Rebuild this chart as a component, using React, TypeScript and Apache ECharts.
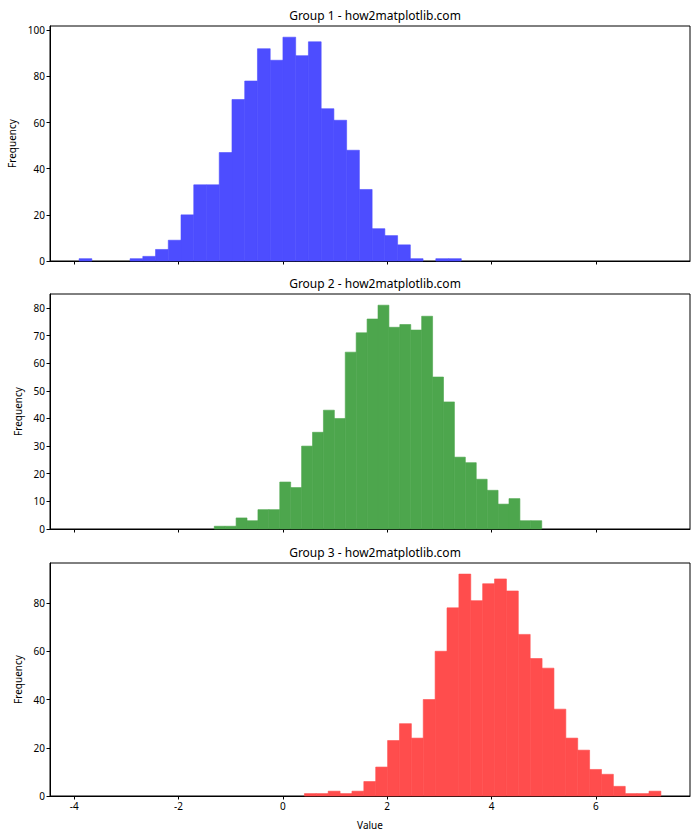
import React, { useEffect, useRef } from "react";
import * as echarts from "echarts";

// Histogram counts (30 bins each)
const group1Counts = [1, 0, 0, 0, 1, 2, 5, 9, 20, 33, 33, 47, 70, 78, 92, 87, 97, 89, 95, 66, 61, 48, 31, 14, 11, 7, 1, 0, 1, 1];
const group2Counts = [1, 1, 4, 3, 7, 7, 17, 15, 30, 35, 43, 40, 64, 71, 76, 81, 73, 74, 72, 77, 55, 46, 26, 24, 18, 14, 9, 11, 3, 3];
const group3Counts = [1, 1, 2, 1, 2, 6, 12, 23, 30, 24, 40, 60, 78, 92, 81, 88, 90, 85, 67, 57, 53, 36, 24, 19, 11, 9, 4, 1, 1, 2];

// Data range of each group (histogram bin range)
const group1Range = [-3.906, 3.42];
const group2Range = [-1.315, 4.962];
const group3Range = [0.413, 7.246];

const titles = ["Group 1 - how2matplotlib.com", "Group 2 - how2matplotlib.com", "Group 3 - how2matplotlib.com"];
// blue / green / red at alpha 0.7 over white
const colors = ["rgb(77,77,255)", "rgb(77,166,77)", "rgb(255,77,77)"];
const xTicks = [-4, -2, 0, 2, 4, 6];
const xMin = -4.464;
const xMax = 7.804;
const yMaxes = [101.85, 85.05, 96.6];
const yIntervals = [20, 10, 20];

function toBins(counts: number[], range: number[]) {
  const n = counts.length;
  const w = (range[1] - range[0]) / n;
  return counts.map((c, i) => [range[0] + i * w, range[0] + (i + 1) * w, c]);
}

const FONT = "Noto Sans, DejaVu Sans, sans-serif";

export default function App() {
  const ref = useRef<HTMLDivElement>(null);
  useEffect(() => {
    if (!ref.current) return;
    const chart = echarts.init(ref.current, null, { renderer: "svg" });
    const grids = [
      { left: 50, top: 26, width: 640, height: 235 },
      { left: 50, top: 294, width: 640, height: 235 },
      { left: 50, top: 563, width: 640, height: 233 },
    ];
    const allData = [
      toBins(group1Counts, group1Range),
      toBins(group2Counts, group2Range),
      toBins(group3Counts, group3Range),
    ];
    const option: any = {
      animation: false,
      backgroundColor: "#ffffff",
      textStyle: { fontFamily: FONT },
      title: grids.map((g, i) => ({
        text: titles[i],
        left: 370,
        top: g.top - 22,
        textAlign: "center",
        textStyle: { fontSize: 12, fontWeight: "normal", color: "#000", fontFamily: FONT },
      })),
      grid: grids.map((g) => ({
        ...g,
        containLabel: false,
        outerBoundsMode: "none",
        show: true,
        borderColor: "#000",
        borderWidth: 1,
        backgroundColor: "transparent",
      })),
      xAxis: grids.map((g, i) => ({
        type: "value",
        gridIndex: i,
        min: xMin,
        max: xMax,
        axisLine: { show: true, onZero: false, lineStyle: { color: "#000", width: 1 } },
        axisTick: { show: true, customValues: xTicks, length: 3.5, lineStyle: { color: "#000" } },
        axisLabel: { show: i === 2, customValues: xTicks, fontSize: 10, color: "#000", margin: 5, fontFamily: FONT },
        splitLine: { show: false },
        name: i === 2 ? "Value" : "",
        nameLocation: "middle",
        nameGap: 24,
        nameTextStyle: { fontSize: 10, color: "#000", fontFamily: FONT },
      })),
      yAxis: grids.map((g, i) => ({
        type: "value",
        gridIndex: i,
        min: 0,
        max: yMaxes[i],
        interval: yIntervals[i],
        axisLine: { show: true, onZero: false, lineStyle: { color: "#000", width: 1 } },
        axisTick: { show: true, length: 3.5, lineStyle: { color: "#000" } },
        axisLabel: { fontSize: 10, color: "#000", margin: 5, fontFamily: FONT, showMaxLabel: false },
        splitLine: { show: false },
        name: "Frequency",
        nameLocation: "middle",
        nameGap: i === 0 ? 28 : 23,
        nameTextStyle: { fontSize: 10, color: "#000", fontFamily: FONT },
      })),
      series: allData.map((data, i) => ({
        type: "custom",
        xAxisIndex: i,
        yAxisIndex: i,
        data,
        encode: { x: [0, 1], y: 2 },
        renderItem: (params: any, api: any) => {
          const x0 = api.value(0);
          const x1 = api.value(1);
          const c = api.value(2);
          if (!c) return null;
          const p0 = api.coord([x0, c]);
          const p1 = api.coord([x1, 0]);
          return {
            type: "rect",
            shape: { x: p0[0], y: p0[1], width: p1[0] - p0[0], height: p1[1] - p0[1] },
            style: { fill: colors[i], stroke: colors[i], lineWidth: 0.6 },
          };
        },
      })),
    };
    chart.setOption(option);
    return () => chart.dispose();
  }, []);
  return (
    <div
      ref={ref}
      style={{ position: "fixed", left: 0, top: 0, width: 700, height: 840 }}
    />
  );
}
